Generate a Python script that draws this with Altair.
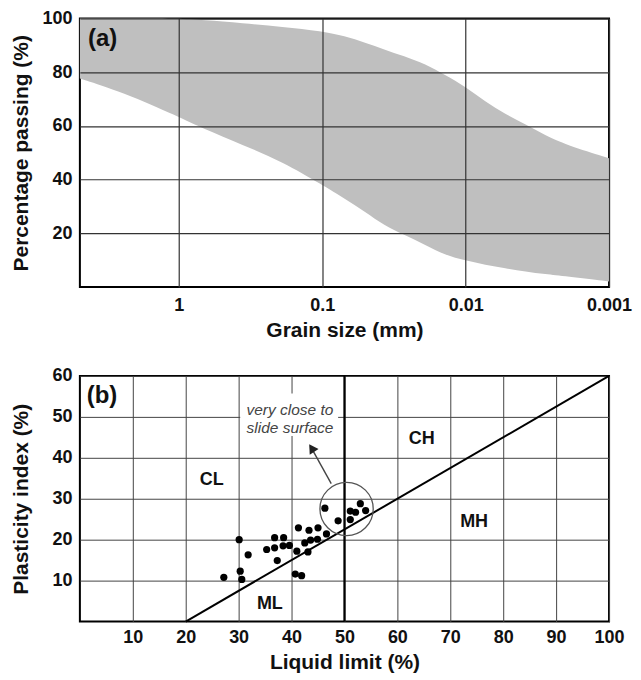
import altair as alt
import pandas as pd

# ---------------- Panel (a): grain size envelope ----------------
grain_size = [4.9, 2.5, 1.0, 0.68, 0.36, 0.19, 0.1, 0.07, 0.05, 0.037, 0.027,
              0.019, 0.014, 0.01, 0.0073, 0.0053, 0.0038, 0.0028, 0.002, 0.001]
upper_pct = [100, 100, 100, 99.4, 98.3, 96.9, 95.3, 93.5, 91, 88.5, 86,
             83, 79, 74.6, 69, 64.5, 60.5, 56.5, 53, 48]
lower_pct = [77.7, 72.7, 63.4, 59, 53, 46.7, 38, 33, 28, 23, 19.5,
             15.7, 12, 9.9, 8.3, 7, 5.8, 4.8, 4, 2.1]
grain_ticks = [1, 0.1, 0.01, 0.001]
pct_ticks = [20, 40, 60, 80, 100]

# ---------------- Panel (b): plasticity chart ----------------
liquid_limit = [27.2, 30.1, 30.3, 30.6, 31.8, 35.3, 36.8, 36.8, 37.3, 38.5,
                38.4, 39.6, 41.0, 40.7, 41.9, 41.3, 42.5, 43.1, 43.3, 43.6,
                45.0, 44.9, 46.6, 46.3, 48.8, 51.1, 51.1, 52.1, 53.0, 54.0]
plasticity_index = [10.8, 20.0, 12.3, 10.3, 16.3, 17.6, 20.5, 18.0, 14.9, 20.5,
                    18.5, 18.6, 17.2, 11.6, 11.2, 22.9, 19.2, 17.0, 22.3, 19.9,
                    22.9, 20.1, 21.4, 27.7, 24.6, 27.0, 24.9, 26.7, 28.8, 27.1]
ll_ticks = [10, 20, 30, 40, 50, 60, 70, 80, 90, 100]
pi_ticks = [10, 20, 30, 40, 50, 60]

a_line_ll = [20, 100]
a_line_pi = [0, 60]

zone_names = ["CL", "CH", "MH", "ML"]
zone_ll = [24.9, 64.6, 74.5, 35.9]
zone_pi = [34.7, 44.7, 24.2, 4.4]

note_lines = ["very close to", "slide surface"]
note_ll = [39.7, 39.7]
note_pi = [51.7, 47.4]

FONT = "Liberation Sans, Arial, Helvetica, sans-serif"

# ---------- Panel (a) ----------
df_a = pd.DataFrame({"grain": grain_size, "upper": upper_pct, "lower": lower_pct})

xa = alt.X("grain:Q",
           scale=alt.Scale(type="log", domain=[0.001, 4.9], reverse=True, nice=False),
           axis=alt.Axis(values=grain_ticks, format="~g", title="Grain size (mm)",
                         labelPadding=9, titlePadding=5, zindex=1))
ya = alt.Y("upper:Q",
           scale=alt.Scale(domain=[0, 100], nice=False, zero=True),
           axis=alt.Axis(values=pct_ticks, title="Percentage passing (%)",
                         labelPadding=8, titlePadding=10, minExtent=38, maxExtent=38,
                         zindex=1))

area = alt.Chart(df_a).mark_area(color="#bfbfbf", interpolate="basis").encode(
    x=xa, y=ya, y2="lower:Q")

tag_a = alt.Chart(pd.DataFrame({"grain": [4.3], "upper": [92.5], "label": ["(a)"]})).mark_text(
    font=FONT, fontSize=24, fontWeight="bold", align="left", baseline="middle", color="#111"
).encode(x=xa, y=ya, text="label:N")

panel_a = alt.layer(area, tag_a).properties(width=530, height=269)

# ---------- Panel (b) ----------
xb = alt.X("ll:Q", scale=alt.Scale(domain=[0, 100], nice=False),
           axis=alt.Axis(values=ll_ticks, title="Liquid limit (%)",
                         labelPadding=7, titlePadding=5, gridColor="#444", gridWidth=1))
yb = alt.Y("pi:Q", scale=alt.Scale(domain=[0, 60], nice=False),
           axis=alt.Axis(values=pi_ticks, title="Plasticity index (%)",
                         labelPadding=8, titlePadding=10, minExtent=38, maxExtent=38,
                         gridColor="#444", gridWidth=1))

box = alt.Chart(pd.DataFrame({"ll": [30.3], "ll2": [48.8], "pi": [45.3], "pi2": [55.7]})).mark_rect(
    color="white").encode(x=xb, x2="ll2:Q", y=yb, y2="pi2:Q")

ll50 = alt.Chart(pd.DataFrame({"ll": [50], "pi": [0], "pi2": [60]})).mark_rule(
    color="#000", strokeWidth=2.2).encode(x=xb, y=yb, y2="pi2:Q")

aline = alt.Chart(pd.DataFrame({"ll": a_line_ll, "pi": a_line_pi})).mark_line(
    color="#000", strokeWidth=2).encode(x=xb, y=yb)

ring = alt.Chart(pd.DataFrame({"ll": [50.4], "pi": [27.5]})).mark_point(
    shape="circle", size=2850, filled=False, color="#555", strokeWidth=1.3, opacity=1
).encode(x=xb, y=yb)

arrow_shaft = alt.Chart(pd.DataFrame({"ll": [47.5], "pi": [33.7], "ll2": [43.8], "pi2": [42.3]})).mark_rule(
    color="#444", strokeWidth=1.4).encode(x=xb, y=yb, x2="ll2:Q", y2="pi2:Q")

arrow_head = alt.Chart(pd.DataFrame({"ll": [43.8], "pi": [42.4]})).mark_point(
    shape="triangle-up", size=110, filled=True, color="#222", angle=327, opacity=1
).encode(x=xb, y=yb)

pts = alt.Chart(pd.DataFrame({"ll": liquid_limit, "pi": plasticity_index})).mark_circle(
    size=52, color="#000", opacity=1).encode(x=xb, y=yb)

zones = alt.Chart(pd.DataFrame({"ll": zone_ll, "pi": zone_pi, "label": zone_names})).mark_text(
    font=FONT, fontSize=18, fontWeight="bold", color="#111", align="center", baseline="middle"
).encode(x=xb, y=yb, text="label:N")

note = alt.Chart(pd.DataFrame({"ll": note_ll, "pi": note_pi, "label": note_lines})).mark_text(
    font=FONT, fontSize=15.5, fontStyle="italic", color="#444", align="center", baseline="middle"
).encode(x=xb, y=yb, text="label:N")

tag_b = alt.Chart(pd.DataFrame({"ll": [1.3], "pi": [55.2], "label": ["(b)"]})).mark_text(
    font=FONT, fontSize=24, fontWeight="bold", align="left", baseline="middle", color="#111"
).encode(x=xb, y=yb, text="label:N")

panel_b = alt.layer(box, ll50, aline, ring, arrow_shaft, arrow_head, pts, zones, note, tag_b).properties(
    width=530, height=246)

chart = alt.vconcat(panel_a, panel_b, spacing=25).properties(
    padding={"left": 1, "top": 0, "right": 0, "bottom": 0}
).configure_view(
    stroke="#000", strokeWidth=2
).configure_axis(
    labelFont=FONT, titleFont=FONT, labelFontSize=18, labelFontWeight="bold",
    titleFontSize=21, titleFontWeight="bold", labelColor="#111", titleColor="#111",
    ticks=False, domain=False, gridColor="#333", gridWidth=1.2, labelFlush=False,
    labelOverlap=False
)

chart.save("out.html", embed_options={"renderer": "svg", "actions": False})
